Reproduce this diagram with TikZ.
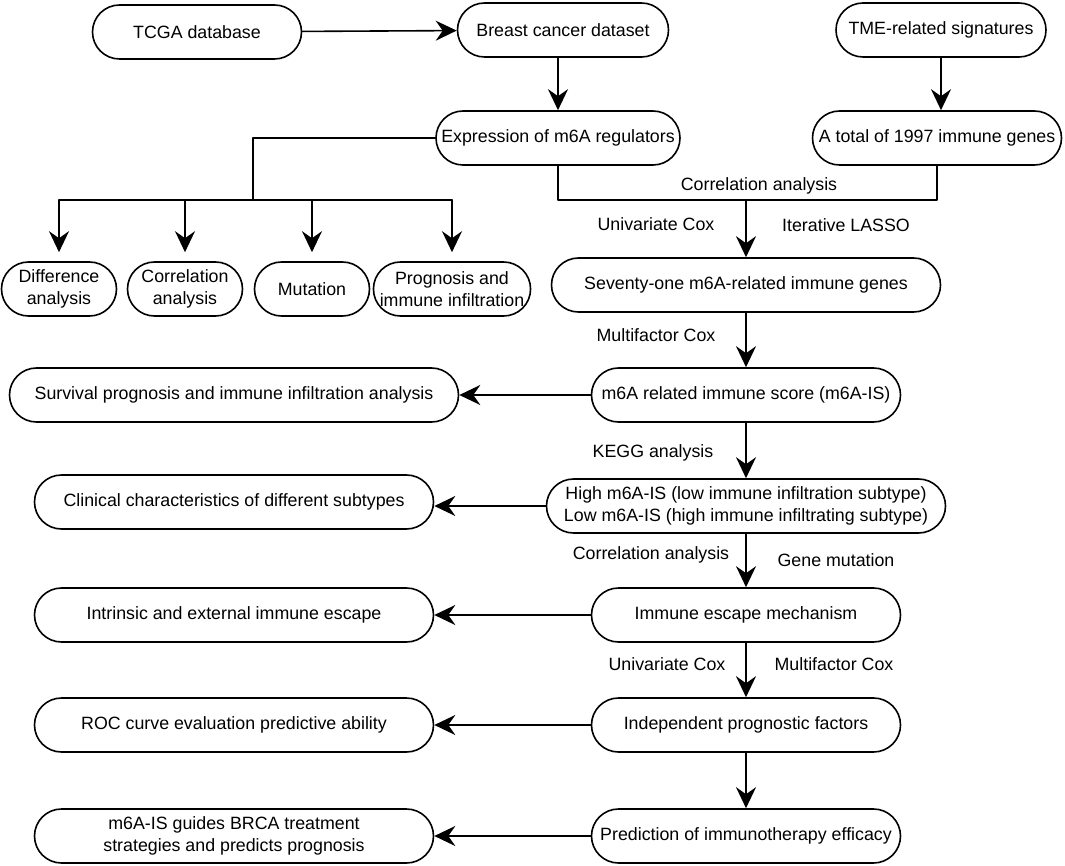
\documentclass[tikz,border=0pt]{standalone}
\usepackage{fontspec}
\setmainfont{Liberation Sans}
\usetikzlibrary{arrows.meta}
\usetikzlibrary{shapes.misc}

\begin{document}
\begin{tikzpicture}[line cap=round,line join=round,>={Stealth[length=21pt,width=20pt,inset=7pt]},x=1pt,y=-1pt,
  box/.style={draw,rounded rectangle,line width=1.6pt,minimum height=54pt,inner sep=0pt,align=center,font=\fontsize{17.8}{21.7}\selectfont},
  lab/.style={inner sep=0pt,font=\fontsize{17.8}{21.7}\selectfont},
  flow/.style={line width=1.6pt}]
\useasboundingbox (0,0) rectangle (1065,866);
% top rows
\node[box,minimum width=209pt] (tcga) at (197,32) {TCGA database};
\node[box,minimum width=211pt] (brca) at (563,30) {Breast cancer dataset};
\node[box,minimum width=210pt] (tme) at (941,30) {TME-related signatures};
\node[box,minimum width=244pt] (expr) at (558,138) {Expression of m6A regulators};
\node[box,minimum width=249pt] (total) at (937,138) {A total of 1997 immune genes};
% four analyses
\node[box,minimum width=115pt] (diff) at (59,289) {Difference\\analysis};
\node[box,minimum width=115pt] (corr) at (185,289) {Correlation\\analysis};
\node[box,minimum width=115pt] (mut) at (312,289) {Mutation};
\node[box,minimum width=155pt] (prog) at (452,289) {Prognosis and\\immune infiltration};
% main column
\node[box,minimum width=389pt] (seventy) at (746,285) {Seventy-one m6A-related immune genes};
\node[box,minimum width=309pt] (score) at (746,395) {m6A related immune score (m6A-IS)};
\node[box,minimum width=399pt] (subtype) at (746,506) {High m6A-IS (low immune infiltration subtype)\\Low m6A-IS (high immune infiltrating subtype)};
\node[box,minimum width=309pt] (escape) at (746,615) {Immune escape mechanism};
\node[box,minimum width=309pt] (indep) at (746,725) {Independent prognostic factors};
\node[box,minimum width=309pt] (predict) at (746,836) {Prediction of immunotherapy efficacy};
% left column
\node[box,minimum width=449pt] (surv) at (234,395) {Survival prognosis and immune infiltration analysis};
\node[box,minimum width=399pt] (clin) at (234,502) {Clinical characteristics of different subtypes};
\node[box,minimum width=399pt] (intr) at (234,615) {Intrinsic and external immune escape};
\node[box,minimum width=399pt] (roc) at (234,725) {ROC curve evaluation predictive ability};
\node[box,minimum width=399pt] (guide) at (234,836) {m6A-IS guides BRCA treatment\\strategies and predicts prognosis};
% labels
\node[lab] (corrlab) at (759,186) {Correlation analysis};
\node[lab] (unicoxa) at (656,224) {Univariate Cox};
\node[lab] (lasso) at (846,225) {Iterative LASSO};
\node[lab] (multicoxa) at (656,335) {Multifactor Cox};
\node[lab] (kegg) at (653,453) {KEGG analysis};
\node[lab] (corrlabb) at (651,555) {Correlation analysis};
\node[lab] (genemut) at (836,560) {Gene mutation};
\node[lab] (unicoxb) at (667,664) {Univariate Cox};
\node[lab] (multicoxb) at (834,664) {Multifactor Cox};
% junctions
\coordinate (split) at (253,200);
\coordinate (corrbar) at (746,200);
% connectors
\draw[flow,->] (tcga) -- (brca);
\draw[flow,->] (expr.north |- brca.south) -- (expr.north);
\draw[flow,->] (tme) -- (tme |- total.north);
\draw[flow] (expr.west) -| (split);
\draw[flow] (diff.north |- split) -- (prog.north |- split);
\foreach \n in {diff,corr,mut,prog}
  \draw[flow,->,shorten >=9pt] (\n.north |- split) -- (\n.north);
\draw[flow] (expr.south) |- (corrbar) -| (total.south);
\draw[flow,->] (corrbar) -- (seventy.north);
\draw[flow,->] (seventy) -- (score);
\draw[flow,->] (score) -- (subtype);
\draw[flow,->] (subtype) -- (escape);
\draw[flow,->] (escape) -- (indep);
\draw[flow,->] (indep) -- (predict);
\draw[flow,->] (score) -- (surv);
\draw[flow,->] (subtype.west) -- (clin.east |- subtype.west);
\draw[flow,->] (escape) -- (intr);
\draw[flow,->] (indep) -- (roc);
\draw[flow,->] (predict) -- (guide);
\end{tikzpicture}
\end{document}
